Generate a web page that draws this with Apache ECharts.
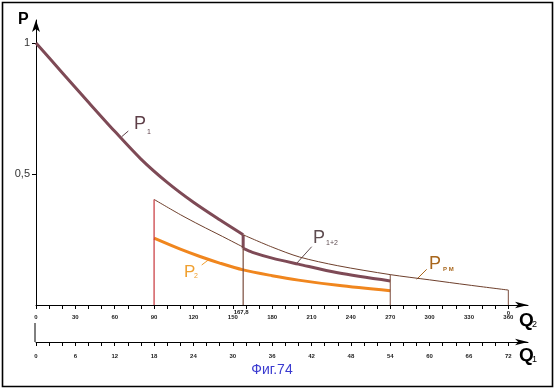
<!DOCTYPE html>
<html><head><meta charset="utf-8">
<script src="https://cdn.jsdelivr.net/npm/echarts@6/dist/echarts.min.js"></script>
<style>html,body{margin:0;padding:0;background:#fff}#c{width:557px;height:390px}</style>
</head><body><div id="c"></div>
<script>
// ---- data ----
const breakQ = 157.9;           // position of the step (labelled 167,8)
const breakLabel = '167,8';
const qP1 = [0, 20, 40, 60, 80, 100, 120, 140, breakQ];
const vP1 = [1.0, 0.887, 0.774, 0.663, 0.557, 0.468, 0.392, 0.325, 0.268];
const qP12 = [breakQ, 165, 180, 200, 230, 270];
const vP12 = [0.216, 0.201, 0.179, 0.156, 0.123, 0.092];
const qP2 = [90, 110, 125, 140, breakQ, 180, 200, 230, 270];
const vP2 = [0.255, 0.213, 0.185, 0.16, 0.134, 0.112, 0.095, 0.075, 0.054];
const qPMa = [90, 110, 125, 142, breakQ];
const vPMa = [0.403, 0.345, 0.305, 0.262, 0.221];
const qPMb = [breakQ, 180, 201, 230, 270, 300, 330, 360];
const vPMb = [0.268, 0.221, 0.183, 0.15, 0.116, 0.096, 0.076, 0.057];
const q2Labels = [0, 30, 60, 90, 120, 150, 180, 210, 240, 270, 300, 330, 360];
const q1Labels = [0, 6, 12, 18, 24, 30, 36, 42, 48, 54, 60, 66, 72];
const yLabels = [0.5, 1];

const q2Ticks = []; for (let v = 0; v <= 360; v += 10) q2Ticks.push(v);
const q1Ticks = []; for (let v = 0; v <= 72; v += 2) q1Ticks.push(v);
const pairs = (xs, ys) => xs.map((x, i) => [x, ys[i]]);

const cP1 = '#7e4a56', cP2 = '#f0861e', cPM = '#6e3f2c', cRed = '#c8343a', cV = '#7a4b3c';
const FONT = 'Liberation Sans, Arial, sans-serif';

const chart = echarts.init(document.getElementById('c'), null, {renderer: 'canvas'});
const axisBase = {
  type: 'value', position: 'bottom',
  axisLine: {show: true, onZero: false, symbol: ['none', 'arrow'], symbolSize: [5, 13],
    lineStyle: {color: '#000', width: 1}},
  axisTick: {show: true, length: 4, lineStyle: {color: '#000'}},
  axisLabel: {fontSize: 6, fontWeight: 'bold', color: '#222', fontFamily: FONT, margin: 9},
  splitLine: {show: false}
};
const curve = (xs, ys, color, width) => ({type: 'line', data: pairs(xs, ys), smooth: 0.3,
  showSymbol: false, lineStyle: {color, width}});
const straight = (pts, color, width) => ({type: 'line', data: pts, showSymbol: false, lineStyle: {color, width}});

chart.setOption({
  animation: false,
  backgroundColor: '#fff',
  grid: {left: 36, right: 29, top: 20, bottom: 85, containLabel: false},
  xAxis: [
    Object.assign({}, axisBase, {min: 0, max: 375,
      axisTick: Object.assign({}, axisBase.axisTick, {customValues: q2Ticks}),
      axisLabel: Object.assign({}, axisBase.axisLabel, {customValues: q2Labels})}),
    Object.assign({}, axisBase, {min: 0, max: 75, offset: 37,
      axisTick: Object.assign({}, axisBase.axisTick, {customValues: q1Ticks}),
      axisLabel: Object.assign({}, axisBase.axisLabel, {customValues: q1Labels, margin: 11})})
  ],
  yAxis: {
    type: 'value', min: 0, max: 1.088,
    axisLine: {show: true, symbol: ['none', 'arrow'], symbolSize: [6, 12], lineStyle: {color: '#000', width: 1}},
    axisTick: {show: true, length: 4, customValues: yLabels, lineStyle: {color: '#000'}},
    axisLabel: {customValues: yLabels, fontSize: 11, color: '#333', fontFamily: FONT, margin: 6,
      formatter: v => String(v).replace('.', ',')},
    splitLine: {show: false}
  },
  series: [
    curve(qP1, vP1, cP1, 3),
    straight([[breakQ, vP1[vP1.length - 1]], [breakQ, vP12[0]]], cP1, 3),
    curve(qP12, vP12, cP1, 3),
    curve(qP2, vP2, cP2, 3),
    curve(qPMa, vPMa, cPM, 1),
    curve(qPMb, vPMb, cPM, 1),
    straight([[qPMa[0], 0], [qPMa[0], vPMa[0]]], cRed, 1.2),
    straight([[breakQ, 0], [breakQ, vP12[0]]], cV, 1.2),
    straight([[270, 0], [270, vPMb[4]]], cV, 1),
    straight([[360, 0], [360, vPMb[vPMb.length - 1]]], cV, 1)
  ]
});

const x0 = chart.convertToPixel({xAxisIndex: 0}, 0);
const y0 = chart.convertToPixel({yAxisIndex: 0}, 0);
const xb = chart.convertToPixel({xAxisIndex: 0}, breakQ);
const x360 = chart.convertToPixel({xAxisIndex: 0}, 360);
const lab = (x, y, t, size, color, weight, align) => ({type: 'text', x, y,
  style: {text: t, fontSize: size, fill: color, fontWeight: weight || 'normal', fontFamily: FONT,
    align: align || 'left', verticalAlign: 'top'}});
const seg = (x1, y1, x2, y2, color) => ({type: 'line', shape: {x1, y1, x2, y2}, style: {stroke: color, lineWidth: 1}});

chart.setOption({graphic: [
  {type: 'rect', shape: {x: 2.5, y: 2.5, width: 550, height: 384}, style: {fill: null, stroke: '#000', lineWidth: 1.6}},
  seg(x0 - 1, y0 + 18, x0 - 1, y0 + 37, '#000'),
  lab(xb - 2, y0 + 4, breakLabel, 6, '#222', 'bold', 'center'),
  lab(x360, y0 + 5, '0', 6, '#222', 'bold', 'center'),
  // axis names
  lab(18, 12, 'P', 16, '#000', 'bold'),
  lab(519, 311, 'Q', 19, '#000', 'bold'),
  lab(532, 320, '2', 9, '#000'),
  lab(519, 346, 'Q', 19, '#000', 'bold'),
  lab(532, 355, '1', 9, '#000'),
  // curve labels
  lab(134, 115, 'P', 18, '#5e3f48'), lab(147, 129, '1', 7, '#5e3f48'),
  seg(121.7, 136.7, 128.3, 131, '#5e3f48'),
  lab(313, 229, 'P', 18, '#5e4c50'), lab(326, 240, '1+2', 7, '#5e4c50'),
  seg(311.7, 246.7, 296.7, 263.3, '#5e4c50'),
  lab(184, 264, 'P', 17, '#f0a030'), lab(194, 273, '2', 7, '#f0a030'),
  seg(201.7, 265, 208.3, 260, '#f0a030'),
  lab(429, 255, 'P', 18, '#a8661c'), lab(443, 266, 'P M', 6, '#a8661c', 'bold'),
  seg(426.7, 269.3, 416.7, 279.3, '#a8661c'),
  // title
  lab(272, 363, 'Фиг.74', 14, '#3a3ad0', 'normal', 'center')
]});
</script></body></html>
